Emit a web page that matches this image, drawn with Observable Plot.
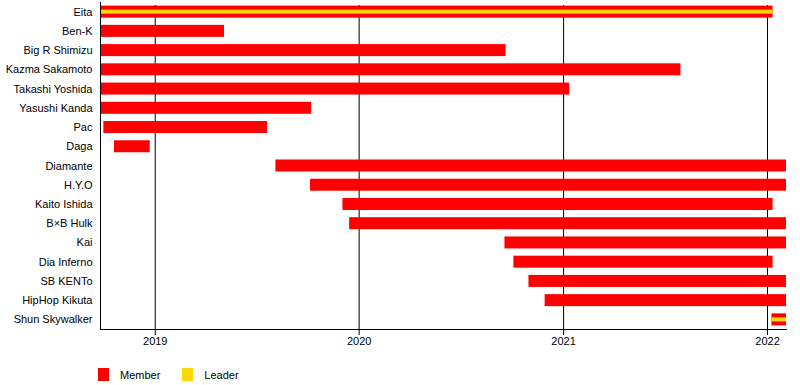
<!DOCTYPE html>
<html>
<head>
<meta charset="utf-8">
<script src="https://cdn.jsdelivr.net/npm/d3@7"></script>
<script src="https://cdn.jsdelivr.net/npm/@observablehq/plot@0.6"></script>
<style>
  html, body { margin: 0; padding: 0; background: #fff; }
  body { width: 800px; height: 385px; overflow: hidden; font-family: "Liberation Sans", Arial, sans-serif; }
  #legend { position: absolute; left: 98px; top: 368px; display: flex; align-items: center; font-size: 11px; color: #000; }
  .item { display: flex; align-items: center; margin-right: 22px; }
  .sw { width: 11px; height: 13px; margin-right: 11px; }
</style>
</head>
<body>
<div id="chart"></div>
<div id="legend"></div>
<script>
const members = ["Eita", "Ben-K", "Big R Shimizu", "Kazma Sakamoto", "Takashi Yoshida", "Yasushi Kanda", "Pac", "Daga", "Diamante", "H.Y.O", "Kaito Ishida", "B×B Hulk", "Kai", "Dia Inferno", "SB KENTo", "HipHop Kikuta", "Shun Skywalker"];
const memberStart = ["2018-09-25", "2018-09-25", "2018-09-25", "2018-09-25", "2018-09-25", "2018-09-25", "2018-10-01", "2018-10-20", "2019-08-05", "2019-10-06", "2019-12-03", "2019-12-15", "2020-09-18", "2020-10-04", "2020-10-31", "2020-11-29", "2022-01-09"];
const memberEnd = ["2022-01-11", "2019-05-05", "2020-09-20", "2021-07-30", "2021-01-12", "2019-10-08", "2019-07-21", "2018-12-23", "2022-02-04", "2022-02-04", "2022-01-11", "2022-02-04", "2022-02-04", "2022-01-11", "2022-02-04", "2022-02-04", "2022-02-04"];
const leaders = ["Eita", "Shun Skywalker"];
const leaderStart = ["2018-09-25", "2022-01-09"];
const leaderEnd = ["2022-01-11", "2022-02-04"];
const yearTicks = ["2019-01-01", "2020-01-01", "2021-01-01", "2022-01-01"];
const domainX = ["2018-09-25", "2022-02-04"];
const legendLabels = ["Member", "Leader"];
const colors = ["#ff0000", "#ffd700"];

const parse = d3.utcParse("%Y-%m-%d");
const memberData = members.map((n, i) => ({name: n, start: parse(memberStart[i]), end: parse(memberEnd[i])}));
const leaderData = leaders.map((n, i) => ({name: n, start: parse(leaderStart[i]), end: parse(leaderEnd[i])}));
const ticks = yearTicks.map(parse);

const chart = Plot.plot({
  width: 800,
  height: 352,
  marginLeft: 100,
  marginRight: 14,
  marginTop: 2,
  marginBottom: 23,
  style: {fontFamily: "'Liberation Sans', Arial, sans-serif", fontSize: "11px", color: "#000", background: "#fff"},
  x: {type: "utc", domain: domainX.map(parse)},
  y: {domain: members, paddingInner: 0.376, paddingOuter: 0.188, align: 0.5, round: false},
  marks: [
    Plot.ruleX(ticks, {stroke: "#000", strokeWidth: 1, insetTop: 3}),
    Plot.barX(memberData, {y: "name", x1: "start", x2: "end", fill: colors[0]}),
    Plot.barX(leaderData, {y: "name", x1: "start", x2: "end", fill: colors[1], insetTop: 4, insetBottom: 4}),
    Plot.frame({anchor: "bottom", stroke: "#000"}),
    Plot.frame({anchor: "left", stroke: "#000"}),
    Plot.axisX({ticks: ticks, tickFormat: d3.utcFormat("%Y"), tickSize: 6, tickPadding: 2, label: null, stroke: "#000"}),
    Plot.axisY({tickSize: 0, tickPadding: 8, label: null})
  ]
});
document.getElementById("chart").appendChild(chart);

const legend = document.getElementById("legend");
legendLabels.forEach((l, i) => {
  const it = document.createElement("div");
  it.className = "item";
  const sw = document.createElement("div");
  sw.className = "sw";
  sw.style.background = colors[i];
  const tx = document.createElement("span");
  tx.textContent = l;
  it.appendChild(sw);
  it.appendChild(tx);
  legend.appendChild(it);
});
</script>
</body>
</html>
